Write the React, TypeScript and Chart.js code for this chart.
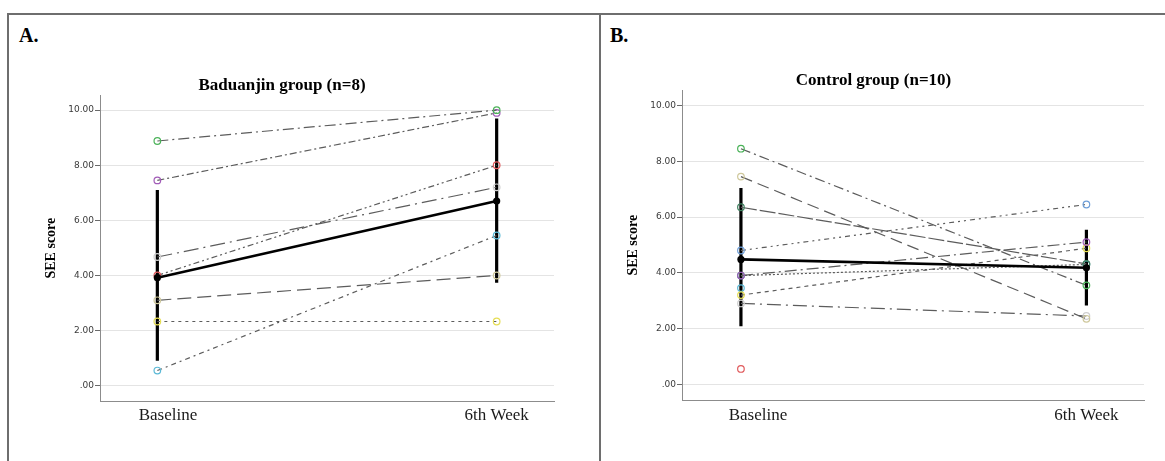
import React, { useEffect, useRef } from 'react';
import { Chart, registerables } from 'chart.js';

Chart.register(...registerables);

// ---------- shared axis data ----------
const xLabels = ['Baseline', '6th Week'];
const xPositions = [0, 1];
const yTickValues = [0, 2, 4, 6, 8, 10];
const yTickLabels = ['.00', '2.00', '4.00', '6.00', '8.00', '10.00'];
const yAxisTitle = 'SEE score';

// ---------- Panel A : Baduanjin group ----------
const titleA = 'Baduanjin group (n=8)';
const panelLabelA = 'A.';
const baselineA = [8.88, 7.45, 4.67, 4.0, 0.55, 3.1, 2.33];
const week6A = [10.0, 9.9, 7.2, 8.0, 5.45, 4.0, 2.33];
const meanA = [3.92, 6.7];
const sdLowA = [0.91, 3.74];
const sdHighA = [7.1, 9.7];

// ---------- Panel B : Control group ----------
const titleB = 'Control group (n=10)';
const panelLabelB = 'B.';
const baselineB = [8.45, 7.45, 6.35, 4.8, 3.9, 3.9, 3.2, 2.9, 3.45, 0.55];
const week6B: (number | null)[] = [3.55, 2.35, 4.32, 6.45, 5.1, 4.3, 4.88, 2.45, null, null];
const meanB = [4.48, 4.18];
const sdLowB = [2.08, 2.83];
const sdHighB = [7.04, 5.54];

// ---------- styles ----------
const markerColorsA = ['#4cb35a', '#a25cb8', '#cfcfcf', '#e05a5c', '#5cb9d6', '#cfc89c', '#e6de55'];
const dashesA = [
  [11, 4, 2, 4],
  [7, 3, 2, 3],
  [15, 5, 2, 5],
  [6, 3, 2, 3, 2, 3],
  [5, 4, 2, 4],
  [14, 6],
  [3, 4],
];
const markerColorsB = ['#4cb35a', '#cfc89c', '#3f7f5f', '#6f9fd8', '#a25cb8', '#2e8b8b', '#e6de55', '#cfcfcf', '#5cb9d6', '#e05a5c'];
const dashesB = [
  [10, 4, 2, 4],
  [12, 6],
  [16, 3],
  [5, 4, 2, 4, 2, 4],
  [12, 4, 2, 4],
  [2, 2],
  [4, 4],
  [14, 5, 2, 5],
  [],
  [],
];

const SERIF = "'Liberation Serif', 'Times New Roman', serif";
const SANS = "'DejaVu Sans', sans-serif";
const LINE_GRAY = '#5c5c5c';

type PanelCfg = {
  title: string;
  baseline: number[];
  week6: (number | null)[];
  mean: number[];
  sdLow: number[];
  sdHigh: number[];
  colors: string[];
  dashes: number[][];
  xMin: number;
  xMax: number;
  yMin: number;
  yMax: number;
  yAxisWidth: number;
  xAxisHeight: number;
  rightPad: number;
  titlePadTop: number;
  yTitlePad: number;
  xLabelPad: number;
  baselineShift: string;
};

function buildDatasets(cfg: PanelCfg) {
  const ds: any[] = [];
  // mean line (drawn on top)
  ds.push({
    data: cfg.mean.map((v, i) => ({ x: xPositions[i], y: v })),
    borderColor: '#000',
    backgroundColor: '#000',
    borderWidth: 2.6,
    pointRadius: 3.6,
    pointBorderWidth: 0,
    pointBackgroundColor: '#000',
    order: 0,
  });
  // subjects
  cfg.baseline.forEach((b, i) => {
    const pts: any[] = [{ x: xPositions[0], y: b }];
    if (cfg.week6[i] !== null && cfg.week6[i] !== undefined) pts.push({ x: xPositions[1], y: cfg.week6[i] });
    ds.push({
      data: pts,
      borderColor: LINE_GRAY,
      borderWidth: 1.2,
      borderDash: cfg.dashes[i],
      pointRadius: 3.3,
      pointBorderWidth: 1.2,
      pointBorderColor: cfg.colors[i],
      pointBackgroundColor: 'rgba(255,255,255,0)',
      order: 1,
    });
  });
  // error bars (drawn underneath)
  cfg.mean.forEach((_, i) => {
    ds.push({
      data: [
        { x: xPositions[i], y: cfg.sdLow[i] },
        { x: xPositions[i], y: cfg.sdHigh[i] },
      ],
      borderColor: '#000',
      borderWidth: 3.2,
      pointRadius: 0,
      order: 2,
    });
  });
  return ds;
}

function Panel({ cfg, width, height }: { cfg: PanelCfg; width: number; height: number }) {
  const ref = useRef<HTMLCanvasElement | null>(null);
  useEffect(() => {
    if (!ref.current) return;
    const chart = new Chart(ref.current, {
      type: 'line',
      data: { datasets: buildDatasets(cfg) },
      options: {
        animation: false,
        responsive: true,
        maintainAspectRatio: false,
        events: [],
        layout: { padding: { left: 0, right: cfg.rightPad, top: 0, bottom: 0 } },
        plugins: {
          legend: { display: false },
          tooltip: { enabled: false },
          title: {
            display: true,
            text: cfg.title,
            color: '#000',
            font: { family: SERIF, size: 17, weight: 'bold', lineHeight: 1.15 },
            padding: { top: cfg.titlePadTop, bottom: 0 },
          },
        },
        scales: {
          x: {
            type: 'linear',
            min: cfg.xMin,
            max: cfg.xMax,
            afterBuildTicks: (scale: any) => {
              scale.ticks = xPositions.map((v) => ({ value: v }));
            },
            afterFit: (scale: any) => {
              scale.height = cfg.xAxisHeight;
            },
            grid: { display: false, drawTicks: false },
            border: { display: true, color: '#8c8c8c', width: 1 },
            ticks: {
              padding: cfg.xLabelPad,
              color: '#1a1a1a',
              font: { family: SERIF, size: 17, lineHeight: 1.2 },
              maxRotation: 0,
              autoSkip: false,
              callback: (value: any) => {
                const idx = xPositions.indexOf(Number(value));
                if (idx < 0) return '';
                return idx === 0 ? cfg.baselineShift + xLabels[idx] : xLabels[idx];
              },
            },
          },
          y: {
            type: 'linear',
            min: cfg.yMin,
            max: cfg.yMax,
            afterBuildTicks: (scale: any) => {
              scale.ticks = yTickValues.map((v) => ({ value: v }));
            },
            afterFit: (scale: any) => {
              scale.width = cfg.yAxisWidth;
            },
            grid: {
              display: true,
              color: '#e4e4e4',
              lineWidth: 1,
              drawTicks: true,
              tickLength: 5,
              tickColor: '#6a6a6a',
            },
            border: { display: true, color: '#8c8c8c', width: 1 },
            ticks: {
              padding: 1,
              color: '#3a3a3a',
              font: { family: SANS, size: 9 },
              autoSkip: false,
              callback: (value: any) => {
                const idx = yTickValues.indexOf(Number(value));
                return idx < 0 ? '' : yTickLabels[idx];
              },
            },
            title: {
              display: true,
              text: yAxisTitle,
              color: '#000',
              font: { family: SERIF, size: 14, weight: 'bold', lineHeight: 1.2 },
              padding: { top: cfg.yTitlePad, bottom: 0 },
            },
          },
        },
      } as any,
    });
    return () => chart.destroy();
  }, [cfg]);
  return (
    <div style={{ position: 'relative', width, height }}>
      <canvas ref={ref} />
    </div>
  );
}

const cfgA: PanelCfg = {
  title: titleA,
  baseline: baselineA,
  week6: week6A,
  mean: meanA,
  sdLow: sdLowA,
  sdHigh: sdHighA,
  colors: markerColorsA,
  dashes: dashesA,
  xMin: -0.169,
  xMax: 1.169,
  yMin: -0.555,
  yMax: 10.54,
  yAxisWidth: 90,
  xAxisHeight: 60,
  rightPad: 20,
  titlePadTop: 59.7,
  yTitlePad: 33,
  xLabelPad: 4,
  baselineShift: '     ',
};

const cfgB: PanelCfg = {
  title: titleB,
  baseline: baselineB,
  week6: week6B,
  mean: meanB,
  sdLow: sdLowB,
  sdHigh: sdHighB,
  colors: markerColorsB,
  dashes: dashesB,
  xMin: -0.1706,
  xMax: 1.1667,
  yMin: -0.563,
  yMax: 10.54,
  yAxisWidth: 79,
  xAxisHeight: 61,
  rightPad: 15,
  titlePadTop: 54.9,
  yTitlePad: 22,
  xLabelPad: 5,
  baselineShift: '        ',
};

const BORDER = '#6e6e6e';

export default function App() {
  return (
    <div
      style={{
        position: 'absolute',
        left: 0,
        top: 0,
        width: 1165,
        height: 461,
        background: '#fff',
        overflow: 'hidden',
      }}
    >
      <div style={{ position: 'absolute', left: 7, top: 13, width: 1158, height: 2, background: BORDER }} />
      <div style={{ position: 'absolute', left: 7, top: 13, width: 2, height: 448, background: BORDER }} />
      <div style={{ position: 'absolute', left: 599, top: 13, width: 2, height: 448, background: BORDER }} />
      <div
        style={{
          position: 'absolute',
          left: 19,
          top: 25,
          fontFamily: SERIF,
          fontWeight: 'bold',
          fontSize: 20,
          lineHeight: '20px',
          color: '#000',
        }}
      >
        {panelLabelA}
      </div>
      <div
        style={{
          position: 'absolute',
          left: 610,
          top: 25,
          fontFamily: SERIF,
          fontWeight: 'bold',
          fontSize: 20,
          lineHeight: '20px',
          color: '#000',
        }}
      >
        {panelLabelB}
      </div>
      <div style={{ position: 'absolute', left: 10, top: 16 }}>
        <Panel cfg={cfgA} width={564} height={445} />
      </div>
      <div style={{ position: 'absolute', left: 603, top: 16 }}>
        <Panel cfg={cfgB} width={556} height={445} />
      </div>
    </div>
  );
}
